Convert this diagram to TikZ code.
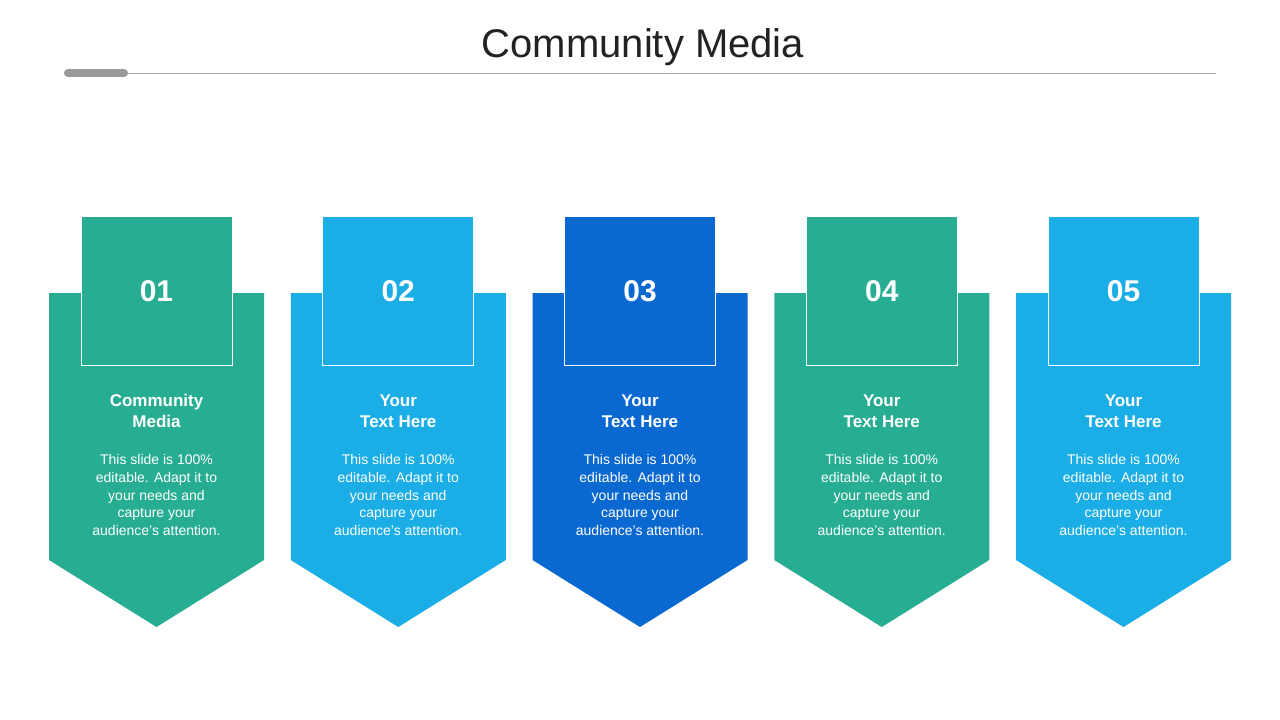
\documentclass[tikz,border=0pt]{standalone}
\usepackage{fontspec}
\setmainfont{Liberation Sans}
\definecolor{cg}{HTML}{27AD92}
\definecolor{cl}{HTML}{1BAEE6}
\definecolor{cd}{HTML}{0A68D1}
\begin{document}
\begin{tikzpicture}[x=1pt,y=-1pt,
  numtxt/.style={text=white,font=\fontsize{30}{30}\selectfont\bfseries},
  headtxt/.style={text=white,font=\fontsize{17}{21}\selectfont\bfseries,align=center},
  bodytxt/.style={text=white,font=\fontsize{14}{17.8}\selectfont,align=center}]
\useasboundingbox (0,0) rectangle (1280,720);
\fill[white] (0,0) rectangle (1280,720);
\node (title) at (643,47) {\fontsize{40}{40}\selectfont\color[HTML]{222222}Community Media};
\draw[gray!70,line width=1] (64,73) -- (1216,73);
\draw[gray!80,line width=8,line cap=round] (68,73) -- (124,73);
\foreach \i/\c/\h in {0/cg/{Community\\Media},1/cl/{Your\\Text Here},2/cd/{Your\\Text Here},3/cg/{Your\\Text Here},4/cl/{Your\\Text Here}}{
  \begin{scope}[xshift=\i*241.75]
  \fill[\c] (49,293) -- (264,293) -- (264,560) -- (156.5,627) -- (49,560) -- cycle;
  \node[draw=white,line width=0.8,fill=\c,minimum width=151,minimum height=149,inner sep=0] (sq\i) at (156.5,290.5) {};
  \node[numtxt] (n\i) at (156.5,291) {0\the\numexpr\i+1\relax};
  \node[headtxt] (h\i) at (156.5,411) {\h};
  \node[bodytxt] (b\i) at (156.5,495) {This slide is 100\%\\editable. Adapt it to\\your needs and\\capture your\\audience's attention.};
  \end{scope}
}
\end{tikzpicture}
\end{document}
